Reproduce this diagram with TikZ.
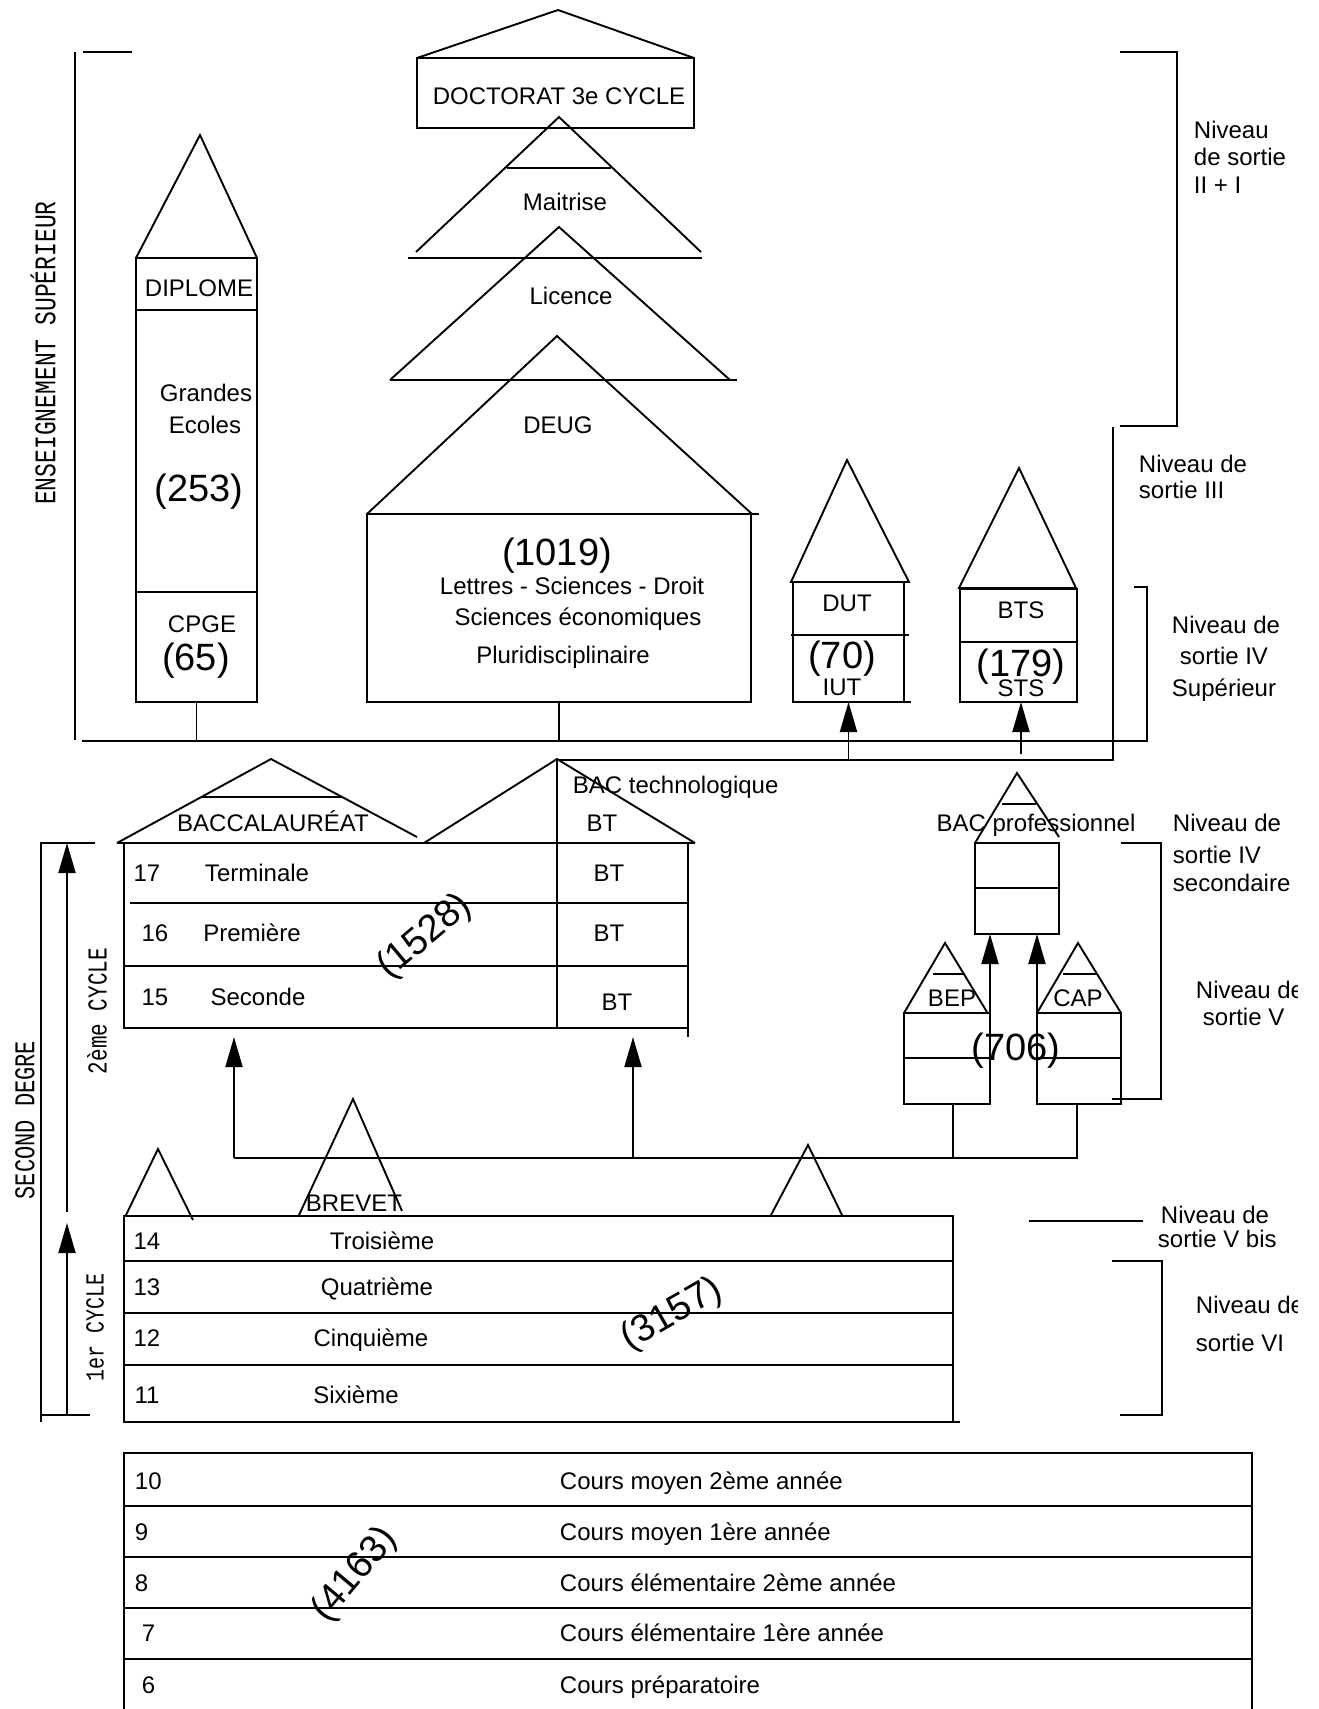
\documentclass[tikz,border=0pt]{standalone}
\usepackage{fontspec}
\setmainfont{Liberation Sans}
\setmonofont{Liberation Mono}
\usetikzlibrary{arrows.meta}
\begin{document}
\begin{tikzpicture}[x=1pt,y=-1pt,line width=1.9pt,
  lbl/.style={inner sep=0pt,font=\fontsize{24}{28}\selectfont,text height=17pt,text depth=0pt},
  big/.style={inner sep=0pt,font=\fontsize{38}{40}\selectfont,text height=27pt,text depth=0pt},
  box/.style={draw,inner sep=0pt,outer sep=0pt,line width=1.9pt},
  arr/.style={-{Triangle[length=30pt,width=17pt]}},
  vt/.style={inner sep=0pt,rotate=90},
  stamp/.style={inner sep=0pt,font=\fontsize{38}{40}\selectfont}
]
\useasboundingbox[fill=white] (0,0) rectangle (1318,1709);

% ---------- left vertical labels ----------
\node[vt,font=\ttfamily\fontsize{23}{23}\selectfont] (es) at (43,353) {\scalebox{1}[1.3]{ENSEIGNEMENT SUPÉRIEUR}};
\node[vt,font=\ttfamily\fontsize{22}{22}\selectfont] (sd) at (25,1120) {\scalebox{1}[1.3]{SECOND DEGRE}};
\node[vt,font=\ttfamily\fontsize{21}{21}\selectfont] (c2) at (97,1011) {\scalebox{1}[1.3]{2ème CYCLE}};
\node[vt,font=\ttfamily\fontsize{20}{20}\selectfont] (c1) at (95,1327) {\scalebox{1}[1.3]{1er CYCLE}};

% ---------- brackets ----------
\draw (83,52) -- (132,52);
\draw (75,52) -- (75,740);
\coordinate (bus1L) at (82,741);
\coordinate (bus1R) at (1147,741);
\draw (bus1L) -- (bus1R) -- (1147,587) -- (1134,587);
\draw (1120,52) -- (1177,52) -- (1177,426) -- (1120,426);
\coordinate (bus2L) at (557,760);
\coordinate (bus2R) at (1113,760);
\draw (1113,427) -- (bus2R) -- (bus2L);
\draw (1121,843) -- (1161,843) -- (1161,1099) -- (1112,1099);
\draw (1029,1221) -- (1143,1221);
\draw (1112,1261) -- (1162,1261) -- (1162,1415) -- (1120,1415);
\draw (95,843) -- (41,843) -- (41,1422);
\draw (41,1415) -- (90,1415);
\coordinate (sdtop) at (67,843);
\coordinate (sdmid) at (67,1212);
\coordinate (c1top) at (67,1223);
\coordinate (c1bot) at (67,1415);
\draw[arr] (sdmid) -- (sdtop);
\draw[arr] (c1bot) -- (c1top);

% ---------- DOCTORAT ----------
\draw (417,58) -- (558,10) -- (694,58);
\node[box,minimum width=277pt,minimum height=70pt] (doc) at (555.5,93) {};
\node[lbl] (doct) at (559,96) {DOCTORAT 3e CYCLE};

% ---------- Maitrise / Licence / DEUG ----------
\draw (416,252) -- (559,117) -- (701,252);
\draw (408,258) -- (702,258);
\draw (507,168) -- (611,168);
\node[lbl] (mait) at (565,202) {Maitrise};
\draw (390,380) -- (559,227) -- (730,380);
\draw (390,380) -- (737,380);
\node[lbl] (lic) at (571,296) {Licence};
\draw (367,514) -- (557,336) -- (752,514);
\node[lbl] (deugt) at (558,425) {DEUG};
\node[box,minimum width=384pt,minimum height=188pt] (deug) at (559,608) {};
\draw (751,514) -- (759,514);
\node[big] (n1019) at (557,552) {(1019)};
\node[lbl] (lsd) at (572,586) {Lettres - Sciences - Droit};
\node[lbl] (seco) at (578,617) {Sciences économiques};
\node[lbl] (plur) at (563,655) {Pluridisciplinaire};
\draw (deug.south) -- (deug.south |- bus1L);

% ---------- Grandes Ecoles ----------
\draw (136,258) -- (200,135) -- (257,258);
\node[box,minimum width=121pt,minimum height=444pt] (ge) at (196.5,480) {};
\draw (136,310) -- (257,310);
\draw (136,592) -- (257,592);
\node[lbl] (dipl) at (199,288) {DIPLOME};
\node[lbl] (gra) at (206,393) {Grandes};
\node[lbl] (eco) at (205,425) {Ecoles};
\node[big] (n253) at (199,488) {(253)};
\node[lbl] (cpge) at (202,624) {CPGE};
\node[big] (n65) at (196,657) {(65)};
\draw (ge.south) -- (ge.south |- bus1L);

% ---------- DUT / IUT ----------
\draw (791,582) -- (847,460) -- (909,582) -- cycle;
\node[box,minimum width=111pt,minimum height=120pt] (dut) at (848.5,642) {};
\draw (791,635) -- (909,635);
\draw (904,702) -- (911,702);
\node[lbl] (dutt) at (847,603) {DUT};
\node[big] (n70) at (842,655) {(70)};
\node[lbl] (iut) at (842,687) {IUT};
\draw[arr] (dut.south |- bus2L) -- (dut.south);

% ---------- BTS / STS ----------
\draw (959,588) -- (1019,468) -- (1076,588) -- cycle;
\node[box,minimum width=117pt,minimum height=113pt] (bts) at (1018.5,645.5) {};
\draw (960,642) -- (1077,642);
\node[lbl] (btst) at (1021,610) {BTS};
\node[big] (n179) at (1021,663) {(179)};
\node[lbl] (sts) at (1021,688) {STS};
\coordinate (stsfoot) at (1021,754);
\draw[arr] (stsfoot) -- (stsfoot |- bts.south);

% ---------- right labels ----------
\node[lbl,anchor=west] (l1a) at (1193,130) {Niveau};
\node[lbl,anchor=west] (l1b) at (1193,157) {de sortie};
\node[lbl,anchor=west] (l1c) at (1193,185) {II + I};
\node[lbl,anchor=west] (l2a) at (1138,464) {Niveau de};
\node[lbl,anchor=west] (l2b) at (1138,490) {sortie III};
\node[lbl] (l3a) at (1226,625) {Niveau de};
\node[lbl] (l3b) at (1224,656) {sortie IV};
\node[lbl] (l3c) at (1224,688) {Supérieur};
\node[lbl,anchor=west] (l4a) at (1172,823) {Niveau de};
\node[lbl,anchor=west] (l4b) at (1172,855) {sortie IV};
\node[lbl,anchor=west] (l4c) at (1172,883) {secondaire};
\begin{scope}
\clip (1100,900) rectangle (1297,1400);
\node[lbl,anchor=west] (l5a) at (1195,990) {Niveau de};
\node[lbl,anchor=west] (l7a) at (1195,1305) {Niveau de};
\end{scope}
\node[lbl,anchor=west] (l5b) at (1202,1017) {sortie V};
\node[lbl,anchor=west] (l6a) at (1160,1215) {Niveau de};
\node[lbl,anchor=west] (l6b) at (1157,1239) {sortie V bis};
\node[lbl,anchor=west] (l7b) at (1195,1343) {sortie VI};

% ---------- Lycee (2eme cycle) ----------
\draw (117,843) -- (271,759) -- (417,837);
\draw (201,797) -- (342,797);
\draw (424,843) -- (557,759) -- (695,843);
\node[box,minimum width=564pt,minimum height=185pt] (bac2) at (406,935.5) {};
\draw (117,843) -- (124,843);
\draw (688,843) -- (695,843);
\draw (688,1028) -- (688,1037);
\draw (130,903) -- (688,903);
\draw (124,966) -- (688,966);
\draw (557,759) -- (557,1028);
\node[lbl] (bacc) at (273,823) {BACCALAURÉAT};
\node[lbl,anchor=west] (bact) at (572,785) {BAC technologique};
\node[lbl] (bt0) at (602,823) {BT};
\node[lbl] (n17) at (147,873) {17};
\node[lbl] (term) at (257,873) {Terminale};
\node[lbl] (bt1) at (609,873) {BT};
\node[lbl] (n16) at (155,933) {16};
\node[lbl] (prem) at (252,933) {Première};
\node[lbl] (bt2) at (609,933) {BT};
\node[lbl] (n15) at (155,997) {15};
\node[lbl] (seco2) at (258,997) {Seconde};
\node[lbl] (bt3) at (617,1002) {BT};
\node[stamp,rotate=40] (s1528) at (425,937) {(1528)};

% ---------- BAC pro / BEP / CAP ----------
\draw (975,843) -- (1017,773) -- (1059,837);
\draw (1002,804) -- (1036,804);
\node[box,minimum width=84pt,minimum height=91pt] (bacpro) at (1017,888.5) {};
\draw (975,888) -- (1059,888);
\node[lbl] (bacprot) at (1036,823) {BAC professionnel};
\draw (904,1013) -- (945,943) -- (987,1012);
\draw (933,974) -- (965,974);
\node[box,minimum width=86pt,minimum height=91pt] (bep) at (947,1058.5) {};
\draw (904,1058) -- (990,1058);
\node[lbl] (bept) at (952,998) {BEP};
\draw (1037,1013) -- (1078,943) -- (1121,1013);
\draw (1063,974) -- (1097,974);
\node[box,minimum width=84pt,minimum height=91pt] (cap) at (1079,1058.5) {};
\draw (1037,1058) -- (1121,1058);
\node[lbl] (capt) at (1078,998) {CAP};
\node[big] (n706) at (1016,1047) {(706)};
\draw[arr] (bep.north east) -- (bep.north east |- bacpro.south);
\draw[arr] (cap.north west) -- (cap.north west |- bacpro.south);

% ---------- bus 3 ----------
\coordinate (bus3L) at (234,1158);
\coordinate (bus3R) at (1078,1158);
\coordinate (bus3M) at (633,1158);
\draw (bus3L) -- (bus3R);
\draw ([xshift=6pt]bep.south) -- ([xshift=6pt]bep.south |- bus3L);
\draw ([xshift=-2pt]cap.south) -- ([xshift=-2pt]cap.south |- bus3L);
\draw[arr] (bus3L) -- (234,1037);
\draw[arr] (bus3M) -- (633,1037);

% ---------- College (1er cycle) ----------
\draw (126,1215) -- (158,1149) -- (193,1220);
\draw (299,1215) -- (353,1099) -- (402,1211);
\draw (771,1215) -- (808,1145) -- (842,1215);
\node[lbl] (brev) at (354,1203) {BREVET};
\node[box,minimum width=829pt,minimum height=206pt] (cyc1) at (538.5,1319) {};
\draw (953,1422) -- (960,1422);
\draw (124,1261) -- (953,1261);
\draw (124,1313) -- (953,1313);
\draw (124,1365) -- (953,1365);
\node[lbl] (n14) at (147,1241) {14};
\node[lbl] (troi) at (382,1241) {Troisième};
\node[lbl] (n13) at (147,1287) {13};
\node[lbl] (quat) at (377,1287) {Quatrième};
\node[lbl] (n12) at (147,1338) {12};
\node[lbl] (cinq) at (371,1338) {Cinquième};
\node[lbl] (n11) at (147,1395) {11};
\node[lbl] (sixi) at (356,1395) {Sixième};
\node[stamp,rotate=30] (s3157) at (672,1315) {(3157)};

% ---------- Primaire ----------
\draw (124,1712) -- (124,1453) -- (1252,1453) -- (1252,1712);
\draw (124,1506) -- (1252,1506);
\draw (124,1557) -- (1252,1557);
\draw (124,1608) -- (1252,1608);
\draw (124,1659) -- (1252,1659);
\node[lbl,anchor=west] (p10) at (134,1481) {10};
\node[lbl,anchor=west] (c10) at (559,1481) {Cours moyen 2ème année};
\node[lbl,anchor=west] (p9) at (134,1532) {9};
\node[lbl,anchor=west] (c9) at (559,1532) {Cours moyen 1ère année};
\node[lbl,anchor=west] (p8) at (134,1583) {8};
\node[lbl,anchor=west] (c8) at (559,1583) {Cours élémentaire 2ème année};
\node[lbl,anchor=west] (p7) at (141,1633) {7};
\node[lbl,anchor=west] (c7) at (559,1633) {Cours élémentaire 1ère année};
\node[lbl,anchor=west] (p6) at (141,1685) {6};
\node[lbl,anchor=west] (c6) at (559,1685) {Cours préparatoire};
\node[stamp,rotate=50] (s4163) at (355,1575) {(4163)};
\end{tikzpicture}
\end{document}
